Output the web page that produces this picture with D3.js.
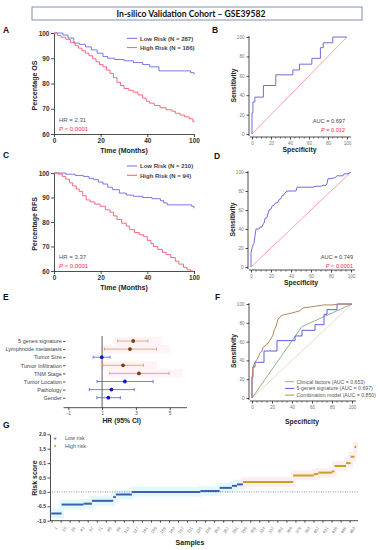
<!DOCTYPE html>
<html>
<head>
<meta charset="utf-8">
<script src="https://cdn.jsdelivr.net/npm/d3@7"></script>
<style>
  body { margin: 0; background: #fff; }
  svg { display: block; }
</style>
</head>
<body>
<svg id="fig" width="382" height="550"></svg>
<script>

/// ---------- data ----------

/// Kaplan-Meier curves, [time, percentage]
var osLow  = [[0,100],[3.8,99.2],[6,98],[8.5,96],[11,95.5],[13.5,94.5],[16,93.3],[18.5,92],[21,90.7],[23,90],[26,89.5],[30,89],[34,88.3],[38,87.5],[41,86.6],[45,85],[57,85],[58.5,84.3],[60,83.6]];
var osHigh = [[0,100],[1.5,99],[3,98.3],[5,97.5],[7,96.3],[9,95],[10.5,94],[12,93],[13.5,92],[15,91],[16.5,89.8],[18,88.6],[19.5,87.5],[21,86.6],[22.5,85.3],[24,84],[25.5,82.3],[27,80.5],[28.5,79.2],[30,78],[32,77.3],[34,76.6],[36,75.5],[38,74.2],[39.5,73],[41,72.2],[43,71.3],[45.5,70.4],[48,69.6],[50.5,69],[52,68.2],[54,67.5],[56,66.8],[58,66],[59.5,65],[60,64.6]];
var rfsLow  = [[0,100],[5,99.5],[9,99],[12.6,98.6],[15,97.8],[17,97.3],[19,96.3],[21,95.5],[23,94.2],[25,93.2],[28,91.8],[31,91],[34,90.5],[38,90],[42,89.5],[45.6,88.7],[47,87.8],[48.5,87],[58,87],[59,86.4],[60,85.6]];
var rfsHigh = [[0,100],[2,99.5],[3.6,98.6],[5,97.5],[6.6,96],[8,94.7],[9.5,93.5],[10.8,92.5],[12.3,90.7],[13.8,89],[15.5,88.2],[17.5,87.3],[19.8,86.4],[22,85],[24,84],[25.5,82.5],[27,81],[29,79.5],[31,78.3],[32.4,76.9],[34.5,75.7],[36.5,74.8],[38.4,74],[40,72.5],[41.5,71.2],[42.6,70],[44.5,68.8],[46.5,67.6],[48,66.7],[50,65.5],[52,64],[53.5,62.8],[55.5,61.5],[57,60.5],[58.5,60],[60,60]];
var kmXTicks = [0, 20, 40, 60];
var kmXLabels = ["0", "20", "40", "100"];
var kmYTicks = [60, 70, 80, 90, 100];

/// ROC curves, [specificity, sensitivity]
var rocGenes = [[0,0],[0,22],[1,33],[3,38],[12,50],[25,61],[43,66],[50,72],[63,78],[72,89],[75,94],[85,100],[100,100]];
var rocRfs = [[0,0],[0,15],[1,20],[2,23],[3,25],[4,33],[5,40],[8,40],[9,42],[11,42],[12,45],[13,46],[14,51],[16,52],[17,56],[18,60],[20,61],[21,64],[23,65],[24,67],[27,68],[28,71],[30,72],[31,75],[33,76],[34,78],[36,80],[45,80],[46,84],[62,84],[64,85],[70,85],[72,86],[75,86],[76,88],[77,93],[80,93],[84,94],[86,96],[92,96],[93,98],[97,98],[100,100]];
var rocClinical = [[0,0],[50,76],[100,100]];
var rocCombined = [[0,0],[0,20],[1,33],[3,38],[5,41],[7,45],[8,48],[10,50],[11,54],[13,55],[14,57],[16,58],[17,60],[19,63],[21,67],[22,72],[24,76],[25,80],[26,84],[28,86],[30,88],[34,89],[38,90],[42,91],[45,92],[48,93],[50,95],[52,96],[60,97],[65,98],[72,99],[80,99],[88,100],[100,100]];
var rocDiag = [[0,0],[100,100]];
var rocTicks = [0, 20, 40, 60, 80, 100];
var rocMinorX = [5,10,15,25,30,35,45,50,55,65,70,75,85,90,95];

/// forest plot
var forestVars = ["5 genes signature","Lymphnode metastasis","Tumor Size","Tumor Infiltration","TNM Stage","Tumor Location","Pathology","Gender"];
var forestHR   = [2.84, 2.65, 0.98, 2.24, 3.18, 2.35, 1.55, 1.37];
var forestLo   = [1.92, 1.14, 0.47, 1.04, 1.45, 0.70, 0.24, 0.69];
var forestHi   = [3.71, 4.22, 1.47, 3.45, 4.96, 4.02, 2.90, 2.08];
var forestSig  = [1, 1, 0, 1, 1, 0, 0, 0];
var forestTicks = [-1, 1, 3, 5];
var forestTickLabels = ["-1", "1", "3", "5"];

/// risk score plateaus: first sample, last sample, score, group
var runStart = [1, 17, 51, 64, 97, 101, 126, 232, 262, 281, 289, 298, 376, 408, 415, 436, 440, 458, 465, 472];
var runEnd   = [16, 50, 63, 96, 100, 125, 231, 261, 280, 288, 297, 375, 407, 414, 435, 439, 457, 464, 470, 472];
var runScore = [-0.75, -0.44, -0.41, -0.31, -0.18, -0.09, 0.0, 0.03, 0.14, 0.21, 0.26, 0.34, 0.57, 0.62, 0.67, 0.71, 0.90, 1.00, 1.22, 1.56];
var runGroup = ["low","low","low","low","low","low","low","low","low","low","low","high","high","high","high","high","high","high","high","high"];
var riskTicks = [-1, -0.5, 0, 0.5, 1, 1.5, 2];
var riskTickLabels = ["-1.0", "-0.5", "0.0", "0.5", "0.1", "1.5", "2.0"];
var sampleTicks = [1,15,29,43,57,71,85,99,113,127,141,155,169,183,197,211,225,239,253,267,281,295,309,323,337,351,365,379,393,407,421,435,449,463];

/// ---------- drawing ----------

var FONT = "'Liberation Sans', Arial, sans-serif";
var BLUE = "#6c6ce0", RED = "#ff5a6e";
var svg = d3.select("#fig");

function txt(x, y, s, size, opt) {
    opt = opt || {};
    var t = svg.append("text")
        .attr("x", x).attr("y", y)
        .attr("font-family", opt.family || FONT)
        .attr("font-size", size)
        .attr("font-weight", opt.bold ? "bold" : "normal")
        .attr("fill", opt.fill || "#222")
        .attr("text-anchor", opt.anchor || "start")
        .text(s);
    if (opt.rotate) t.attr("transform", "rotate(-90," + x + "," + y + ")");
    return t;
}

function styleAxis(g, size, color, bold) {
    g.attr("font-family", FONT).attr("font-size", size);
    g.selectAll("path.domain").attr("stroke", "#222").attr("stroke-width", 0.8);
    g.selectAll(".tick line").attr("stroke", "#222").attr("stroke-width", 0.8);
    g.selectAll(".tick text").attr("fill", color).attr("font-weight", bold ? "bold" : "normal");
}

/// title box
svg.append("rect").attr("x", 32).attr("y", 7).attr("width", 330).attr("height", 13)
    .attr("fill", "none").attr("stroke", "#8190b3").attr("stroke-width", 1);
txt(191, 17, "In-silico Validation Cohort \u2013 GSE39582", 8.6, {bold: true, anchor: "middle", family: "Lato, 'Open Sans', sans-serif", fill: "#111"});

/// panel letters
[["A",3,33],["B",212,33],["C",3,158],["D",214,159],["E",3,300],["F",215,300],["G",3,428]].forEach(function(p) {
    txt(p[1], p[2], p[0], 8.5, {bold: true, fill: "#111"});
});

/// Kaplan-Meier panels
function kmPanel(c) {
    var x = d3.scaleLinear().domain([0, 60]).range([54, 194]);
    var y = d3.scaleLinear().domain([60, 100]).range([c.bottom, c.top]);
    var ya = svg.append("g").attr("transform", "translate(54,0)")
        .call(d3.axisLeft(y).tickValues(kmYTicks).tickSize(3).tickSizeOuter(0).tickPadding(1.5));
    styleAxis(ya, 6.5, "#333", true);
    var xa = svg.append("g").attr("transform", "translate(0," + c.bottom + ")")
        .call(d3.axisBottom(x).tickValues(kmXTicks).tickFormat(function(d, i) { return kmXLabels[i]; })
              .tickSize(3).tickSizeOuter(0).tickPadding(1.5));
    styleAxis(xa, 6.5, "#333", true);

    var line = d3.line().x(function(d) { return x(d[0]); }).y(function(d) { return y(d[1]); })
        .curve(d3.curveStepAfter);
    svg.append("path").datum(c.low).attr("d", line).attr("fill", "none").attr("stroke", BLUE).attr("stroke-width", 0.9);
    svg.append("path").datum(c.high).attr("d", line).attr("fill", "none").attr("stroke", RED).attr("stroke-width", 0.9);

    /// legend
    [[c.legLow, BLUE, 0], [c.legHigh, RED, 9.3]].forEach(function(l) {
        svg.append("line").attr("x1", 127).attr("x2", 137)
            .attr("y1", c.leg + l[2]).attr("y2", c.leg + l[2]).attr("stroke", l[1]).attr("stroke-width", 1);
        txt(140, c.leg + l[2] + 2.2, l[0], 6, {bold: true, fill: "#444"});
    });

    txt(59, c.bottom - 12.5, c.hr, 6, {fill: "#555"});
    var p = txt(59, c.bottom - 3.5, "", 6, {fill: "#ff2a45"});
    p.append("tspan").attr("font-style", "italic").text("P");
    p.append("tspan").text(" < 0.0001");

    txt(37.3, (c.top + c.bottom) / 2 + 2, c.ylab, 7, {bold: true, anchor: "middle", rotate: true});
    txt(124, c.bottom + 19, "Time (Months)", 7, {bold: true, anchor: "middle"});
}

kmPanel({top: 33, bottom: 134, low: osLow, high: osHigh, leg: 38.3,
         legLow: "Low Risk (N = 287)", legHigh: "High Risk (N = 186)", hr: "HR = 2.31", ylab: "Percentage OS"});
kmPanel({top: 173, bottom: 271, low: rfsLow, high: rfsHigh, leg: 166,
         legLow: "Low Risk (N = 210)", legHigh: "High Risk (N = 94)", hr: "HR = 3.37", ylab: "Percentage RFS"});

/// ROC panels
function rocFrame(c) {
    var x = d3.scaleLinear().domain([0, 100]).range([c.left, c.right]);
    var y = d3.scaleLinear().domain([0, 100]).range([c.bottom, c.top]);
    var ya = svg.append("g").attr("transform", "translate(" + (c.left - 3) + ",0)")
        .call(d3.axisLeft(y).tickValues(rocTicks).tickSize(2.5).tickSizeOuter(0).tickPadding(2));
    styleAxis(ya, 4.6, "#777", false);
    ya.select("path.domain").attr("d", "M0," + (c.bottom + 2) + "V" + (c.top - 1));
    var xa = svg.append("g").attr("transform", "translate(0," + (c.bottom + 3) + ")")
        .call(d3.axisBottom(x).tickValues(rocTicks).tickSize(2.5).tickSizeOuter(0).tickPadding(2.5));
    styleAxis(xa, 4.6, "#777", false);
    xa.select("path.domain").attr("d", "M" + (c.left - 2) + ",0H" + (c.right + 4));
    xa.selectAll(".minor").data(rocMinorX).enter().append("line")
        .attr("x1", function(d) { return x(d); }).attr("x2", function(d) { return x(d); })
        .attr("y1", 0).attr("y2", 1.6).attr("stroke", "#222").attr("stroke-width", 0.6);

    txt((c.left + c.right) / 2, c.bottom + c.specGap, "Specificity", 6.8, {bold: true, anchor: "middle"});
    txt(c.left - 16.5, (c.top + c.bottom) / 2, "Sensitivity", 6.8, {bold: true, anchor: "middle", rotate: true});

    var line = d3.line().x(function(d) { return x(d[0]); }).y(function(d) { return y(d[1]); });
    return line;
}

function drawRoc(line, data, color, w, step) {
    var l = step ? line.curve(d3.curveStepAfter) : line.curve(d3.curveLinear);
    svg.append("path").datum(data).attr("d", l).attr("fill", "none")
        .attr("stroke", color).attr("stroke-width", w);
}

var lb = rocFrame({left: 252, right: 347, top: 37, bottom: 134, specGap: 17.5});
drawRoc(lb, rocDiag, "#ff8c8c", 0.8, false);
drawRoc(lb, rocGenes, BLUE, 1, true);
txt(345, 123, "AUC = 0.697", 5.6, {anchor: "end", fill: "#444"});
var pb = txt(345, 132, "", 5.6, {anchor: "end", fill: "#ff2a45"});
pb.append("tspan").attr("font-style", "italic").text("P");
pb.append("tspan").text(" = 0.012");

var ld = rocFrame({left: 251, right: 351, top: 172, bottom: 267, specGap: 17.5});
drawRoc(ld, rocDiag, "#ff8c8c", 0.8, false);
drawRoc(ld, rocRfs, BLUE, 1, false);
txt(353, 259, "AUC = 0.749", 5.6, {anchor: "end", fill: "#444"});
var pd = txt(353, 268, "", 5.6, {anchor: "end", fill: "#ff2a45"});
pd.append("tspan").attr("font-style", "italic").text("P");
pd.append("tspan").text(" < 0.0001");

var lf = rocFrame({left: 252, right: 352, top: 304, bottom: 398, specGap: 26});
drawRoc(lf, rocDiag, "#e9cfb1", 0.8, false);
drawRoc(lf, rocClinical, "#93b48c", 1, false);
drawRoc(lf, rocGenes, "#5c5ce3", 1, true);
drawRoc(lf, rocCombined, "#b5865c", 1, false);
[["Clinical factors (AUC = 0.653)", "#93b48c", 381.7],
 ["5-genes signature (AUC = 0.697)", "#5c5ce3", 388.4],
 ["Combination model (AUC = 0.850)", "#b5865c", 395.1]].forEach(function(l) {
    svg.append("line").attr("x1", 285).attr("x2", 294).attr("y1", l[2]).attr("y2", l[2])
        .attr("stroke", l[1]).attr("stroke-width", 1);
    txt(296.5, l[2] + 1.8, l[0], 5.2, {fill: "#555"});
});

/// forest plot
var fx = d3.scaleLinear().domain([-1, 5]).range([68.3, 169.7]);
var fy = d3.scalePoint().domain(forestVars).range([341, 397.7]);
forestVars.forEach(function(v, i) {
    if (forestSig[i]) {
        svg.append("rect").attr("x", fx(forestLo[i] - 0.2)).attr("y", fy(v) - 4)
            .attr("width", fx(forestHi[i] + 0.8) - fx(forestLo[i] - 0.2)).attr("height", 8)
            .attr("fill", "#fef3f6");
    }
});
svg.append("line").attr("x1", fx(1)).attr("x2", fx(1)).attr("y1", 336).attr("y2", 407.7)
    .attr("stroke", "#333").attr("stroke-width", 0.8);
var fxa = svg.append("g").attr("transform", "translate(0,407.7)")
    .call(d3.axisBottom(fx).tickValues(forestTicks).tickFormat(function(d, i) { return forestTickLabels[i]; })
          .tickSize(2.5).tickSizeOuter(0).tickPadding(1.5));
styleAxis(fxa, 5, "#555", false);
fxa.select("path.domain").attr("d", "M63.5,0H187");
var fya = svg.append("g").attr("transform", "translate(65.5,0)")
    .call(d3.axisLeft(fy).tickSize(2.5).tickPadding(1.2));
styleAxis(fya, 5.5, "#444", false);
fya.select("path.domain").remove();

forestVars.forEach(function(v, i) {
    var col = forestSig[i] ? "#d59b6e" : "#5a5ae6";
    var dot = forestSig[i] ? "#7a3f12" : "#1414c8";
    var y = fy(v);
    svg.append("line").attr("x1", fx(forestLo[i])).attr("x2", fx(forestHi[i])).attr("y1", y).attr("y2", y)
        .attr("stroke", col).attr("stroke-width", 0.8);
    [forestLo[i], forestHi[i]].forEach(function(e) {
        svg.append("line").attr("x1", fx(e)).attr("x2", fx(e)).attr("y1", y - 1.6).attr("y2", y + 1.6)
            .attr("stroke", col).attr("stroke-width", 0.8);
    });
    svg.append("circle").attr("cx", fx(forestHR[i])).attr("cy", y).attr("r", 1.9).attr("fill", dot);
});
txt(121.7, 423.3, "HR (95% CI)", 6.8, {bold: true, anchor: "middle"});

/// risk score plot
var gx = d3.scaleLinear().domain([-1.5, 476]).range([50, 358]);
var gy = d3.scaleLinear().domain([-1, 2]).range([520.7, 434.3]);

runStart.forEach(function(s, i) {
    svg.append("rect").attr("x", gx(s - 4)).attr("y", gy(runScore[i] + 0.17))
        .attr("width", gx(runEnd[i] + 4) - gx(s - 4)).attr("height", gy(-0.17) - gy(0.17))
        .attr("fill", runGroup[i] == "low" ? "#e2f8fb" : "#fdeef4");
});
svg.append("line").attr("x1", 52).attr("x2", 358).attr("y1", gy(0)).attr("y2", gy(0))
    .attr("stroke", "#666").attr("stroke-width", 0.7).attr("stroke-dasharray", "1,1.4");

runStart.forEach(function(s, i) {
    var col = runGroup[i] == "low" ? "#3f5fae" : "#c9a21c";
    if (runEnd[i] == s) {
        svg.append("circle").attr("cx", gx(s)).attr("cy", gy(runScore[i])).attr("r", 1.1).attr("fill", col);
    } else {
        svg.append("line").attr("x1", gx(s - 0.5)).attr("x2", gx(runEnd[i] + 0.5))
            .attr("y1", gy(runScore[i])).attr("y2", gy(runScore[i]))
            .attr("stroke", col).attr("stroke-width", 2);
    }
});

var gya = svg.append("g").attr("transform", "translate(50,0)")
    .call(d3.axisLeft(gy).tickValues(riskTicks).tickFormat(function(d, i) { return riskTickLabels[i]; })
          .tickSize(2.5).tickSizeOuter(0).tickPadding(1.5));
styleAxis(gya, 5, "#333", true);
var gxa = svg.append("g").attr("transform", "translate(0,520.7)")
    .call(d3.axisBottom(gx).tickValues(sampleTicks).tickSize(2).tickSizeOuter(0));
styleAxis(gxa, 4.2, "#666", false);
gxa.select("path.domain").attr("d", "M50,0H358");
gxa.selectAll(".tick text").attr("text-anchor", "end").attr("dy", 0)
    .attr("transform", "translate(1.5,4.5) rotate(-55)");

txt(36.7, 478, "Risk score", 7, {bold: true, anchor: "middle", rotate: true});
txt(190, 545, "Samples", 7, {bold: true, anchor: "middle"});

/// legend
txt(55, 440.2, "+", 6, {anchor: "middle", fill: "#3f5fae", bold: true});
txt(65, 440, "Low risk", 5.4, {fill: "#555"});
svg.append("circle").attr("cx", 55).attr("cy", 446).attr("r", 1.1).attr("fill", "#c9a21c");
txt(65, 448, "High risk", 5.4, {fill: "#555"});

</script>
</body>
</html>
